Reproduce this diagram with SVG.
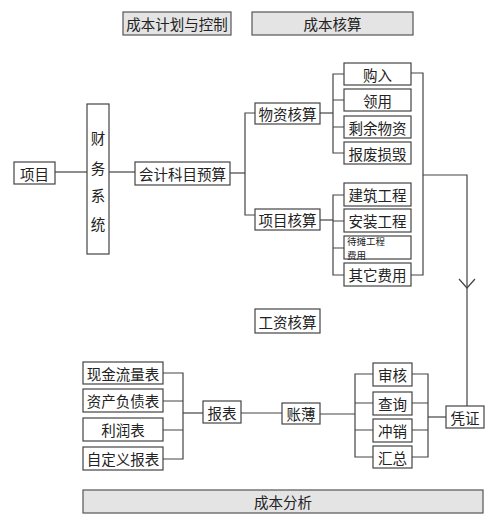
<svg xmlns="http://www.w3.org/2000/svg" width="495" height="531" viewBox="0 0 495 531">
<style>
rect{fill:#fff;stroke:#444;stroke-width:1.2}
rect.g{fill:#e4e4e4;stroke:#555}
text{font-family:"Noto Sans CJK SC","Noto Sans",sans-serif;font-size:14.5px;fill:#222;text-anchor:middle;dominant-baseline:central}
text.s{font-size:9.5px;text-anchor:start}
#connectors path,#connectors line,#connectors polyline{stroke:#444;stroke-width:1.2;fill:none}
</style>
<g id="connectors">
<line x1="55" y1="172" x2="87" y2="172"/>
<line x1="109" y1="172" x2="135" y2="172"/>
<line x1="230" y1="173" x2="245" y2="173"/>
<path d="M255 113H245V215H255"/>
<line x1="320" y1="113" x2="333" y2="113"/>
<path d="M344 74H333V153H344M333 100H344M333 127H344"/>
<line x1="320" y1="220" x2="333" y2="220"/>
<path d="M344 195H333V275H344M333 221H344M333 248H344"/>
<path d="M411 73H423V275H411"/>
<path d="M423 175H467V406"/>
<polyline points="459,279 467,288 475,279"/>
<path d="M163 373H183V459H163M163 401H183M163 430H183"/>
<line x1="183" y1="413" x2="203" y2="413"/>
<line x1="241" y1="413" x2="282" y2="413"/>
<line x1="320" y1="414" x2="355" y2="414"/>
<path d="M373 374H355V457H373M355 403H373M355 430H373"/>
<path d="M412 374H428V457H412M412 403H428M412 430H428"/>
<line x1="428" y1="417" x2="446" y2="417"/>
</g>
<g id="n-plan"><rect class="g" x="123" y="12" width="108" height="23"/><text x="177" y="23.5">成本计划与控制</text></g>
<g id="n-hesuan"><rect class="g" x="252" y="12" width="161" height="23"/><text x="332.5" y="23.5">成本核算</text></g>
<g id="n-xiangmu"><rect x="14" y="162" width="41" height="22"/><text x="34.5" y="173">项目</text></g>
<g id="n-caiwu"><rect x="87" y="104" width="22" height="150"/><text x="98" y="137">财</text><text x="98" y="167">务</text><text x="98" y="194">系</text><text x="98" y="223">统</text></g>
<g id="n-kemu"><rect x="135" y="162" width="95" height="23"/><text x="182.5" y="173.5">会计科目预算</text></g>
<g id="n-wuzi"><rect x="255" y="103" width="65" height="21"/><text x="287.5" y="113.5">物资核算</text></g>
<g id="n-xmhs"><rect x="255" y="209" width="65" height="21"/><text x="287.5" y="219.5">项目核算</text></g>
<g id="n-gouru"><rect x="344" y="63" width="67" height="22"/><text x="377.5" y="74">购入</text></g>
<g id="n-lingyong"><rect x="344" y="89" width="67" height="22"/><text x="377.5" y="100">领用</text></g>
<g id="n-shengyu"><rect x="344" y="116" width="67" height="22"/><text x="377.5" y="127">剩余物资</text></g>
<g id="n-baofei"><rect x="344" y="142" width="67" height="22"/><text x="377.5" y="153">报废损毁</text></g>
<g id="n-jianzhu"><rect x="344" y="183" width="67" height="23"/><text x="377.5" y="194.5">建筑工程</text></g>
<g id="n-anzhuang"><rect x="344" y="209" width="67" height="23"/><text x="377.5" y="220.5">安装工程</text></g>
<g id="n-daitan"><rect x="344" y="236" width="67" height="23"/><text class="s" x="347" y="241">待摊工程</text><text class="s" x="347" y="255">费用</text></g>
<g id="n-qita"><rect x="344" y="263" width="67" height="23"/><text x="377.5" y="274.5">其它费用</text></g>
<g id="n-gongzi"><rect x="255" y="309" width="65" height="24"/><text x="287.5" y="321">工资核算</text></g>
<g id="n-xianjin"><rect x="83" y="362" width="80" height="22"/><text x="123" y="373">现金流量表</text></g>
<g id="n-zichan"><rect x="83" y="389" width="80" height="23"/><text x="123" y="400.5">资产负债表</text></g>
<g id="n-lirun"><rect x="83" y="418" width="80" height="23"/><text x="123" y="429.5">利润表</text></g>
<g id="n-zidingyi"><rect x="83" y="447" width="80" height="23"/><text x="123" y="458.5">自定义报表</text></g>
<g id="n-baobiao"><rect x="203" y="401" width="38" height="22"/><text x="222" y="412">报表</text></g>
<g id="n-zhangbu"><rect x="282" y="403" width="38" height="21"/><text x="301" y="413.5">账薄</text></g>
<g id="n-shenhe"><rect x="373" y="363" width="39" height="23"/><text x="392.5" y="374.5">审核</text></g>
<g id="n-chaxun"><rect x="373" y="392" width="39" height="23"/><text x="392.5" y="403.5">查询</text></g>
<g id="n-chongxiao"><rect x="373" y="419" width="39" height="23"/><text x="392.5" y="430.5">冲销</text></g>
<g id="n-huizong"><rect x="373" y="446" width="39" height="22"/><text x="392.5" y="457">汇总</text></g>
<g id="n-pingzheng"><rect x="446" y="406" width="38" height="22"/><text x="465" y="417">凭证</text></g>
<g id="n-fenxi"><rect class="g" x="83" y="490" width="400" height="23"/><text x="283" y="501.5">成本分析</text></g>
</svg>
